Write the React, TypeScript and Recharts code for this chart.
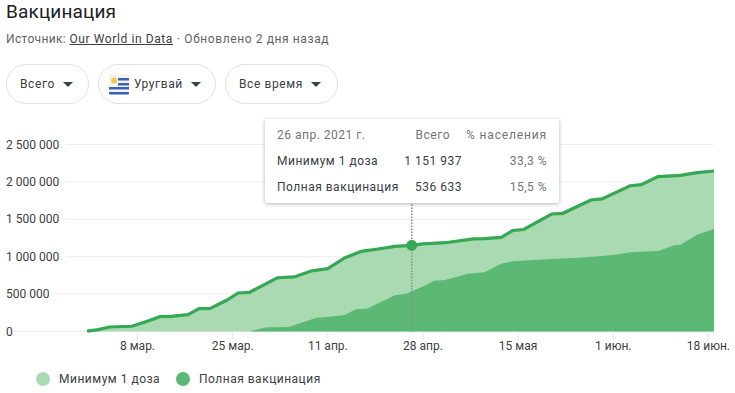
/**
 * Vaccination progress for Uruguay: two overlapping areas with a pinned
 * tooltip on 26 Apr 2021. X axis counts days from 27 Feb.
 */

import { Area, AreaChart, CartesianGrid, Tooltip, XAxis, YAxis } from "recharts";

const FONT = "Roboto, Arial, sans-serif";

const firstDoseDays = [
	0, 2, 4, 8, 11, 13, 15, 18, 20, 22, 25, 27, 29, 34, 37, 40, 43, 46, 49, 52, 55, 58, 60, 64, 69, 71, 74, 76, 78, 83,
	85, 90, 92, 97, 99, 102, 106, 109, 112,
];
const firstDoseValues = [
	5000, 25000, 60000, 70000, 144000, 198000, 203000, 225000, 305000, 310000, 421000, 515000, 524000, 719000, 729000,
	809000, 840000, 983000, 1072000, 1103000, 1139000, 1151937, 1172000, 1187000, 1237000, 1241000, 1259000, 1350000,
	1364000, 1571000, 1580000, 1758000, 1772000, 1949000, 1963000, 2070000, 2088000, 2123000, 2146000,
];

const fullDays = [
	29, 32, 36, 41, 43, 46, 48, 50, 55, 57, 58, 60, 62, 64, 68, 71, 74, 76, 79, 84, 88, 94, 97, 102, 105, 106, 109, 112,
];
const fullValues = [
	0, 56000, 60000, 185000, 194000, 220000, 297000, 305000, 484000, 505000, 536633, 600000, 679000, 689000, 773000,
	792000, 906000, 939000, 952000, 973000, 987000, 1023000, 1059000, 1076000, 1156000, 1160000, 1294000, 1370000,
];

const xTicks = [9, 26, 43, 60, 77, 94, 111];
const xLabels = ["8 мар.", "25 мар.", "11 апр.", "28 апр.", "15 мая", "1 июн.", "18 июн."];
const yTicks = [0, 500000, 1000000, 1500000, 2000000, 2500000];
const yLabels = ["0", "500 000", "1 000 000", "1 500 000", "2 000 000", "2 500 000"];

const filters = ["Всего", "Уругвай", "Все время"];
const pinnedDay = 58;

const LIGHT = "#a9dab2";
const DARK = "#5cb875";
const LINE = "#34a853";

const allDays = [...new Set([...firstDoseDays, ...fullDays])].sort((a, b) => a - b);
const data = allDays.map((day) => {
	const i = firstDoseDays.indexOf(day);
	const j = fullDays.indexOf(day);
	return { day, first: i >= 0 ? firstDoseValues[i] : null, full: j >= 0 ? fullValues[j] : null };
});

function renderYTick({ y, payload }: any) {
	const label = yLabels[yTicks.indexOf(payload.value)];
	// labels sit on a white patch so the grid line starts after the text
	return (
		<g>
			<rect x={0} y={y - 7} width={label.length * 6.4 + 8} height={14} fill="#fff" />
			<text x={6} y={y + 4} fontSize={12} fontFamily={FONT} fill="#3c4043">
				{label}
			</text>
		</g>
	);
}

function PinnedTooltip() {
	const cell = { padding: 0, height: 26, whiteSpace: "nowrap" as const };
	return (
		<div
			style={{
				width: 294,
				height: 84,
				boxSizing: "border-box",
				background: "#fff",
				borderRadius: 2,
				boxShadow: "0 1px 4px rgba(0,0,0,.3)",
				padding: "3px 12px",
				fontFamily: FONT,
				fontSize: 12,
				letterSpacing: 0.5,
				color: "#3c4043",
			}}
		>
			<table style={{ borderCollapse: "collapse", tableLayout: "fixed", width: 270, font: "inherit", letterSpacing: "inherit", color: "inherit" }}>
				<colgroup>
					<col style={{ width: 125 }} />
					<col style={{ width: 60 }} />
					<col style={{ width: 85 }} />
				</colgroup>
				<tbody>
					<tr style={{ color: "#70757a" }}>
						<td style={cell}>26 апр. 2021 г.</td>
						<td style={{ ...cell, textAlign: "right", paddingRight: 12 }}>Всего</td>
						<td style={{ ...cell, textAlign: "right", letterSpacing: 0.85 }}>% населения</td>
					</tr>
					<tr>
						<td style={cell}>Минимум 1 доза</td>
						<td style={{ ...cell, textAlign: "right" }}>1 151 937</td>
						<td style={{ ...cell, textAlign: "right", color: "#70757a" }}>33,3 %</td>
					</tr>
					<tr>
						<td style={cell}>Полная вакцинация</td>
						<td style={{ ...cell, textAlign: "right" }}>536 633</td>
						<td style={{ ...cell, textAlign: "right", color: "#70757a" }}>15,5 %</td>
					</tr>
				</tbody>
			</table>
		</div>
	);
}

function Flag() {
	return (
		<svg width={20} height={21} viewBox="0 0 20 21" style={{ marginRight: 5, borderRadius: 2 }}>
			<rect width={20} height={21} fill="#f4f4f4" />
			<rect x={9} y={4} width={11} height={2.5} fill="#3a62b8" />
			<rect x={9} y={9} width={11} height={2.5} fill="#3a62b8" />
			<rect x={0} y={13} width={20} height={2.5} fill="#3a62b8" />
			<rect x={0} y={18} width={20} height={2.5} fill="#3a62b8" />
			<circle cx={5} cy={6.5} r={3} fill="#f5c842" />
		</svg>
	);
}

function Pill({ label, left, width, flag }: { label: string; left: number; width: number; flag?: boolean }) {
	return (
		<div
			style={{
				position: "absolute",
				left,
				top: 64,
				width,
				height: 40,
				boxSizing: "border-box",
				border: "1px solid #dfe1e5",
				borderRadius: 20,
				display: "flex",
				alignItems: "center",
				paddingLeft: flag ? 10 : 13,
				fontSize: 12,
				letterSpacing: 0.6,
				color: "#3c4043",
			}}
		>
			{flag && <Flag />}
			{label}
			<span
				style={{
					marginLeft: 8,
					borderLeft: "5px solid transparent",
					borderRight: "5px solid transparent",
					borderTop: "5px solid #3c4043",
				}}
			/>
		</div>
	);
}

export default function App() {
	const pills = [
		{ left: 6, width: 83 },
		{ left: 98, width: 118, flag: true },
		{ left: 225, width: 113 },
	];
	return (
		<div style={{ position: "absolute", left: 0, top: 0, width: 735, height: 393, overflow: "hidden", fontFamily: FONT, background: "#fff" }}>
			<div style={{ position: "absolute", left: 6, top: 1, fontSize: 19, letterSpacing: 0.15, lineHeight: "22px", color: "#202124" }}>Вакцинация</div>
			<div style={{ position: "absolute", left: 6, top: 31, fontSize: 12, lineHeight: "16px", letterSpacing: 0.6, color: "#5f6368", whiteSpace: "nowrap" }}>
				<span style={{ letterSpacing: 0.35 }}>Источник: </span>
				<span style={{ color: "#3c4043", textDecoration: "underline" }}>Our World in Data</span>
				<span style={{ marginLeft: 4 }}>· Обновлено 2 дня назад</span>
			</div>
			{filters.map((label, i) => (
				<Pill key={label} label={label} {...pills[i]} />
			))}

			<div style={{ position: "absolute", left: 0, top: 0 }}>
				<AreaChart width={735} height={393} data={data} margin={{ top: 144.5, right: 21, bottom: 31.5, left: 0 }}>
					<CartesianGrid vertical={false} stroke="#eeeeee" />
					<XAxis
						dataKey="day"
						type="number"
						domain={[-14.5, 112]}
						ticks={xTicks}
						tickFormatter={(d: number) => xLabels[xTicks.indexOf(d)]}
						tick={{ fontSize: 12, fontFamily: FONT, fill: "#3c4043" }}
						tickLine={{ stroke: "#e6e6e6" }}
						tickSize={8}
						tickMargin={2}
						axisLine={false}
						height={30}
					/>
					<YAxis
						type="number"
						domain={[0, 2500000]}
						ticks={yTicks}
						width={6}
						axisLine={false}
						tickLine={false}
						tick={renderYTick}
					/>
					<Tooltip
						active
						defaultIndex={allDays.indexOf(pinnedDay)}
						position={{ x: 265, y: 119 }}
						content={<PinnedTooltip />}
						cursor={{ stroke: "#8a8a8a", strokeWidth: 1.5, strokeDasharray: "1.5 1.5" }}
						isAnimationActive={false}
						wrapperStyle={{ zIndex: 5 }}
					/>
					<Area
						dataKey="first"
						type="linear"
						connectNulls
						fill={LIGHT}
						fillOpacity={1}
						stroke={LINE}
						strokeWidth={3.2}
						activeDot={{ r: 4.5, fill: LINE, stroke: LINE }}
						dot={false}
						isAnimationActive={false}
					/>
					<Area
						dataKey="full"
						type="linear"
						connectNulls
						fill={DARK}
						fillOpacity={1}
						stroke="none"
						activeDot={false}
						dot={false}
						isAnimationActive={false}
					/>
				</AreaChart>
			</div>

			{[
				{ name: "Минимум 1 доза", color: LIGHT, left: 36 },
				{ name: "Полная вакцинация", color: DARK, left: 176 },
			].map((s) => (
				<div key={s.name} style={{ position: "absolute", left: s.left, top: 372, display: "flex", alignItems: "center", fontSize: 12, letterSpacing: 0.5, color: "#3c4043" }}>
					<span style={{ width: 14, height: 14, borderRadius: 7, background: s.color, marginRight: 9 }} />
					{s.name}
				</div>
			))}
		</div>
	);
}
